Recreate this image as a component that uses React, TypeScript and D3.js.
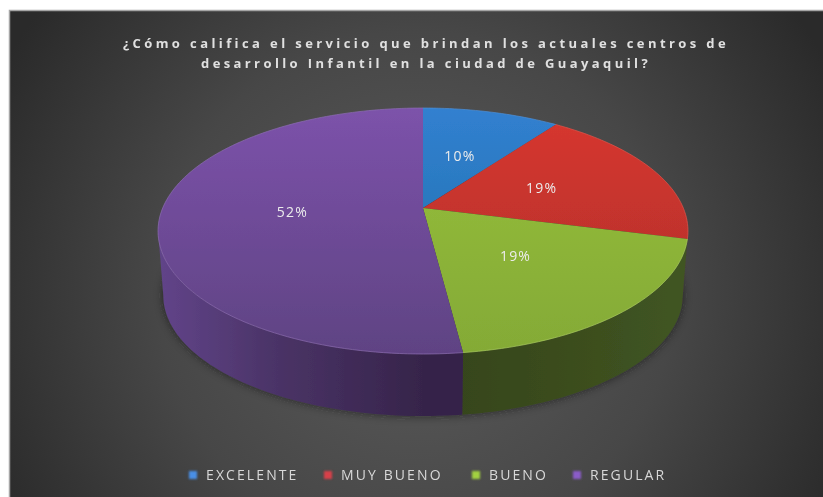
import React from "react";
import * as d3 from "d3";

const titleLines = [
  "¿Cómo califica el servicio que brindan los actuales centros de",
  "desarrollo Infantil en la ciudad de Guayaquil?",
];
const categories = ["EXCELENTE", "MUY BUENO", "BUENO", "REGULAR"];
const values = [10, 19, 19, 52];
const labels = ["10%", "19%", "19%", "52%"];

const topLight = ["#3180d0", "#d8372f", "#97c03c", "#7c52aa"];
const topDark = ["#1f6da4", "#ab2f2a", "#84aa36", "#5f4383"];
const sideLight = ["#16486e", "#6e1f1c", "#405522", "#614489"];
const sideDark = ["#16486e", "#6e1f1c", "#36451a", "#36244a"];
const rim = ["#4f8fd6", "#e0544c", "#a9cc5c", "#8d6cb4"];
const legendColors = ["#4a8fe6", "#d8404a", "#a2d040", "#8a5cc8"];

const width = 823;
const height = 497;

// tilted disc: the apex sits above the middle of the ellipse
const cx = 423;
const cy = 208;
const persp = 0.187;
const xScale = d3.scaleLinear().domain([-1, 1]).range([cx - 260.3, cx + 260.3]);
const yScale = d3.scaleLinear().domain([-1, 1]).range([cy - 118.7, cy + 118.7]);

const depth = 65;
const shrink = 0.98;

function project(angle: number, r = 1): [number, number] {
  const X = Math.sin(angle) * r;
  const Y = -Math.cos(angle) * r;
  const d = 1 - persp * Y;
  return [cx + (xScale(X) - cx) / d, cy + (yScale(Y) - cy) / d];
}

function projectLow(angle: number): [number, number] {
  const [x, y] = project(angle);
  return [cx + (x - cx) * shrink, cy + depth + (y - cy) * shrink];
}

const line = d3.line();

function sampleAngles(a0: number, a1: number) {
  const n = Math.max(2, Math.ceil((a1 - a0) * 40));
  return d3.range(n + 1).map((i) => a0 + ((a1 - a0) * i) / n);
}

// part of the wall facing the viewer
const frontStart = Math.acos(-persp);
const frontEnd = 2 * Math.PI - frontStart;

const arcs = d3.pie<number>().sort(null)(values);

const legendX = d3
  .scaleOrdinal<string, number>()
  .domain(categories)
  .range([206, 341, 489, 590]);

const font = "'Open Sans', 'DejaVu Sans', sans-serif";

export default function App() {
  return (
    <svg
      width={width}
      height={height}
      viewBox={`0 0 ${width} ${height}`}
      style={{ position: "fixed", left: 0, top: 0, background: "#fff" }}
    >
      <defs>
        <radialGradient id="bg" gradientUnits="userSpaceOnUse" cx={416} cy={290} r={470}>
          <stop offset="0" stopColor="#5c5c5c" />
          <stop offset="0.55" stopColor="#474747" />
          <stop offset="1" stopColor="#2a2a2a" />
        </radialGradient>
        <filter id="soft" x="-5%" y="-5%" width="110%" height="110%">
          <feGaussianBlur stdDeviation="0.5" />
        </filter>
        <filter id="shadow" x="-10%" y="-20%" width="120%" height="140%">
          <feGaussianBlur stdDeviation="5" />
        </filter>
        <filter id="glow" x="-50%" y="-50%" width="200%" height="200%">
          <feGaussianBlur stdDeviation="1.2" />
        </filter>
        {arcs.map((_, i) => (
          <linearGradient
            key={i}
            id={`top${i}`}
            gradientUnits="userSpaceOnUse"
            x1={0}
            x2={0}
            y1={cy - 100}
            y2={cy + 146}
          >
            <stop offset="0" stopColor={topLight[i]} />
            <stop offset="1" stopColor={topDark[i]} />
          </linearGradient>
        ))}
        <linearGradient id="side2" gradientUnits="userSpaceOnUse" x1={458} x2={682} y1={0} y2={0}>
          <stop offset="0" stopColor={sideDark[2]} />
          <stop offset="1" stopColor={sideLight[2]} />
        </linearGradient>
        <linearGradient id="side3" gradientUnits="userSpaceOnUse" x1={160} x2={423} y1={0} y2={0}>
          <stop offset="0" stopColor={sideLight[3]} />
          <stop offset="0.45" stopColor="#4a3366" />
          <stop offset="1" stopColor={sideDark[3]} />
        </linearGradient>
      </defs>

      <rect x={9} y={10} width={width} height={height} fill="url(#bg)" />
      <path
        d={line([[9.5, height], [9.5, 10.5], [width, 10.5]]) ?? ""}
        fill="none"
        stroke="#a5a5a5"
        strokeWidth={1.5}
      />

      <g filter="url(#soft)">
        {titleLines.map((t, i) => (
          <text
            key={i}
            x={426}
            y={48 + i * 20}
            textAnchor="middle"
            fontFamily={font}
            fontSize={13}
            fontWeight={700}
            fill="#e0e0e0"
            letterSpacing={3.4}
          >
            {t}
          </text>
        ))}

        {/* soft shadow under the disc */}
        <path
          d={
            line(sampleAngles(0, 2 * Math.PI).map((a) => projectLow(a)))! + "Z"
          }
          fill="#1c1c1c"
          opacity={0.55}
          filter="url(#shadow)"
        />

        {/* wall */}
        {arcs.map((d, i) => {
          const a0 = Math.max(d.startAngle, frontStart);
          const a1 = Math.min(d.endAngle, frontEnd);
          if (a1 <= a0) return null;
          const steps = sampleAngles(a0, a1);
          const pts = [...steps.map((a) => project(a)), ...steps.reverse().map((a) => projectLow(a))];
          return (
            <path
              key={i}
              d={line(pts) + "Z"}
              fill={i >= 2 ? `url(#side${i})` : sideDark[i]}
            />
          );
        })}

        {/* top face */}
        {arcs.map((d, i) => {
          const pts: [number, number][] = [
            [cx, cy],
            ...sampleAngles(d.startAngle, d.endAngle).map((a) => project(a)),
          ];
          return <path key={i} d={line(pts) + "Z"} fill={`url(#top${i})`} />;
        })}
        {arcs.map((d, i) => (
          <path
            key={i}
            d={line(sampleAngles(d.startAngle, d.endAngle).map((a) => project(a))) ?? ""}
            fill="none"
            stroke={rim[i]}
            strokeWidth={1}
            opacity={0.7}
          />
        ))}

        {arcs.map((d, i) => {
          const [x, y] = project((d.startAngle + d.endAngle) / 2, 0.5);
          return (
            <text
              key={i}
              x={x}
              y={y}
              dy="0.35em"
              textAnchor="middle"
              fontFamily={font}
              fontSize={14}
              fill="#ececec"
              letterSpacing={1.2}
            >
              {labels[i]}
            </text>
          );
        })}

        {categories.map((c, i) => {
          const x = legendX(c);
          return (
            <g key={c}>
              <rect
                x={x - 17}
                y={471}
                width={8}
                height={8}
                fill={legendColors[i]}
                filter="url(#glow)"
              />
              <text
                x={x}
                y={475}
                dy="0.36em"
                fontFamily={font}
                fontSize={14}
                fill="#d8d8d8"
                letterSpacing={2.1}
              >
                {c}
              </text>
            </g>
          );
        })}
      </g>
    </svg>
  );
}
